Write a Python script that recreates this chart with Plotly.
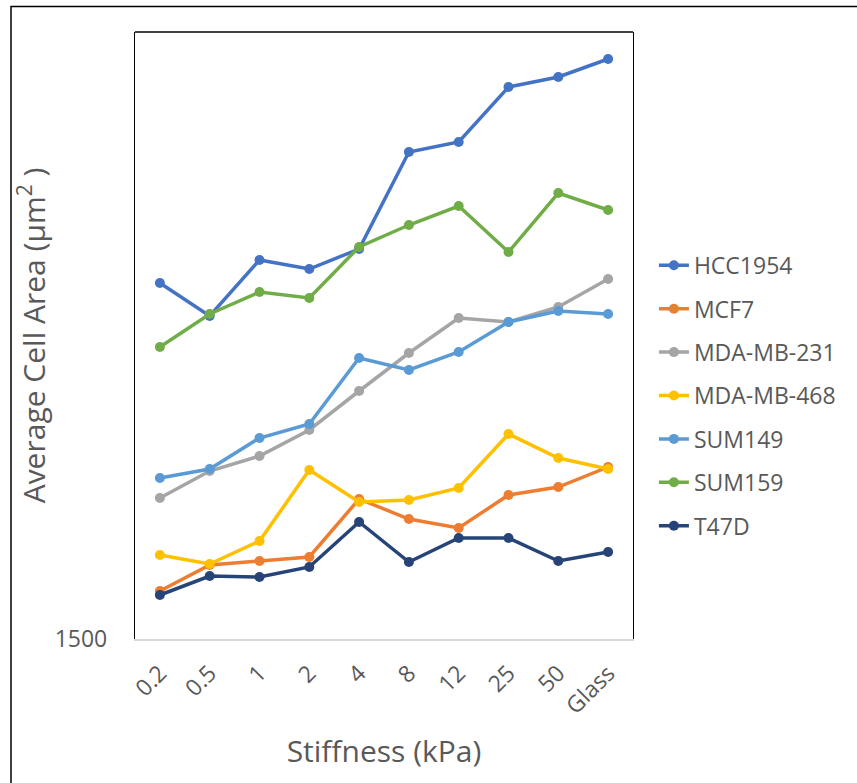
import plotly.graph_objects as go

categories = ["0.2", "0.5", "1", "2", "4", "8", "12", "25", "50", "Glass"]

hcc1954 = [3280, 3115, 3395, 3350, 3450, 3935, 3985, 4260, 4310, 4400]
mcf7 = [1740, 1870, 1890, 1910, 2200, 2100, 2055, 2220, 2260, 2360]
mda_mb_231 = [2205, 2340, 2415, 2545, 2740, 2930, 3105, 3085, 3160, 3300]
mda_mb_468 = [1920, 1875, 1990, 2345, 2185, 2195, 2255, 2525, 2405, 2350]
sum149 = [2305, 2350, 2505, 2575, 2905, 2845, 2935, 3085, 3140, 3125]
sum159 = [2960, 3125, 3235, 3205, 3460, 3570, 3665, 3435, 3730, 3645]
t47d = [1720, 1815, 1810, 1860, 2085, 1885, 2005, 2005, 1890, 1935]

series_names = ["HCC1954", "MCF7", "MDA-MB-231", "MDA-MB-468", "SUM149", "SUM159", "T47D"]
series_values = [hcc1954, mcf7, mda_mb_231, mda_mb_468, sum149, sum159, t47d]
colors = ["#4472C4", "#ED7D31", "#A5A5A5", "#FFC000", "#5B9BD5", "#70AD47", "#264478"]

y_min, y_max = 1500, 4535
FONT = "Open Sans, Lato, sans-serif"
GREY = "#595959"

fig = go.Figure()
for i, (name, vals, col) in enumerate(zip(series_names, series_values, colors)):
    fig.add_trace(go.Scatter(
        x=list(range(len(categories))), y=vals, name=name, mode="lines+markers",
        line=dict(color=col, width=3.5), marker=dict(color=col, size=10),
        legendgroup=f"g{i}",
    ))

fig.update_layout(
    width=857, height=783,
    margin=dict(l=135, r=224, t=32, b=144),
    paper_bgcolor="white", plot_bgcolor="white",
    font=dict(family=FONT, color=GREY),
    showlegend=True,
    legend=dict(x=1.042, y=0.651, xanchor="left", yanchor="top",
                font=dict(size=23, color=GREY, family=FONT),
                tracegroupgap=10.5, bgcolor="rgba(0,0,0,0)", itemwidth=30),
    xaxis=dict(range=[-0.5, 9.5], tickmode="array",
               tickvals=list(range(len(categories))), ticktext=categories,
               tickangle=-45, tickfont=dict(size=23, color=GREY, family=FONT),
               showgrid=False, zeroline=False, showline=True, linecolor="#D9D9D9",
               linewidth=1.5, ticks="", ticklabelstandoff=10,
               title=dict(text="Stiffness (kPa)", font=dict(size=30, color=GREY, family=FONT),
                          standoff=22)),
    yaxis=dict(range=[y_min, y_max], tickmode="array", tickvals=[1500], ticktext=["1500"],
               tickfont=dict(size=23, color=GREY, family=FONT),
               showgrid=False, zeroline=False, showline=True, linecolor="black",
               linewidth=1.3, mirror=True, ticks="", ticklabelstandoff=22,
               title=dict(text="Average Cell Area (µm<sup>2</sup> )",
                          font=dict(size=30, color=GREY, family=FONT), standoff=0)),
)

# top border of plot area
fig.add_shape(type="line", xref="paper", yref="paper", x0=0, x1=1, y0=1, y1=1,
              line=dict(color="black", width=1.3))
# outer chart border (cropped at right and bottom)
fig.add_shape(type="rect", xref="paper", yref="paper",
              x0=-0.249, x1=1.46, y0=-0.26, y1=1.042,
              line=dict(color="black", width=1.5))

fig.write_html("out.html")
